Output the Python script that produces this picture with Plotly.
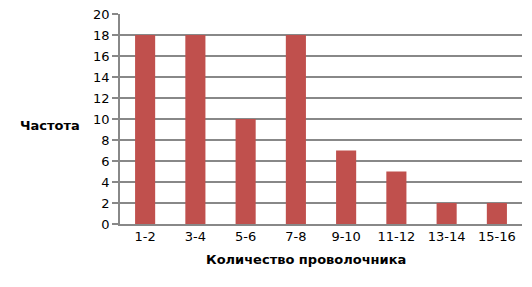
import plotly.graph_objects as go

categories = ["1-2", "3-4", "5-6", "7-8", "9-10", "11-12", "13-14", "15-16"]
values = [18, 18, 10, 18, 7, 5, 2, 2]
y_ticks = list(range(0, 21, 2))

fig = go.Figure(go.Bar(x=categories, y=values, marker=dict(color="#C0504D", line=dict(width=0))))

L, R, T, B = 120, 10, 14, 63
W, H = 532, 287
pw = W - L - R
ph = H - T - B

fig.update_layout(
    width=W, height=H,
    margin=dict(l=L, r=R, t=T, b=B, autoexpand=False),
    paper_bgcolor="white", plot_bgcolor="white",
    bargap=0.6,
    showlegend=False,
    font=dict(family="DejaVu Sans", size=13, color="#000000"),
    xaxis=dict(type="category", showgrid=False, showline=True, linecolor="#888888", linewidth=1.5,
               ticks="", tickfont=dict(size=13), automargin=False),
    yaxis=dict(range=[0, 20], tickvals=y_ticks, showgrid=True, gridcolor="#888888", gridwidth=1.5,
               showline=True, linecolor="#888888", linewidth=1.5, ticks="outside", ticklen=6,
               tickcolor="#888888", tickwidth=1.5, tickfont=dict(size=13), zeroline=False,
               automargin=False),
    annotations=[
        dict(text="<b>Частота</b>", x=(50 - L) / pw, y=(H - B - 125) / ph, xref="paper", yref="paper",
             xanchor="center", yanchor="middle",
             showarrow=False, font=dict(size=13, family="DejaVu Sans")),
        dict(text="<b>Количество проволочника</b>", x=(306 - L) / pw, y=(H - B - 259) / ph,
             xref="paper", yref="paper", xanchor="center", yanchor="middle",
             showarrow=False, font=dict(size=13, family="DejaVu Sans")),
    ],
)

fig.write_html("out.html")
